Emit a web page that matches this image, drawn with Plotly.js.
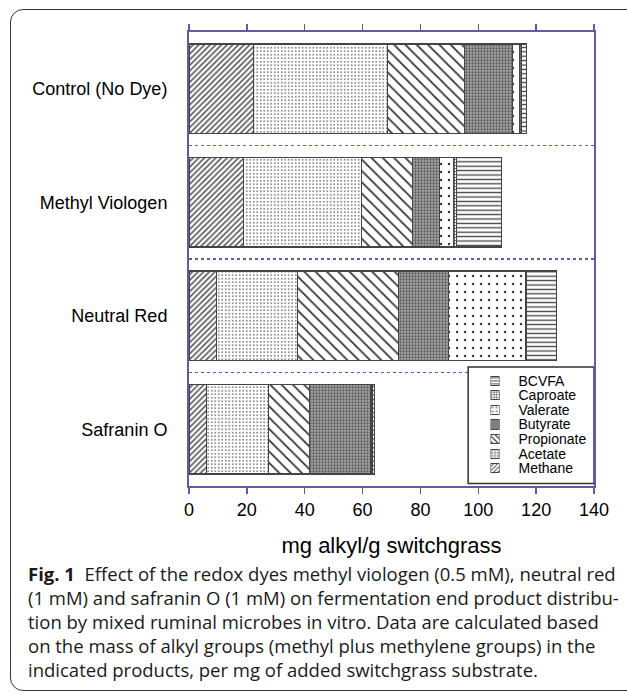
<!DOCTYPE html>
<html><head><meta charset="utf-8">
<script src="https://cdn.plot.ly/plotly-3.0.1.min.js"></script>
<style>
html,body{margin:0;padding:0;background:#fff;}
#wrap{position:relative;width:627px;height:696px;overflow:hidden;}
#chart{position:absolute;left:0;top:0;width:627px;height:696px;}
#frame{position:absolute;left:10px;top:9px;width:640px;height:682px;border:1.5px solid #333;border-radius:13px;pointer-events:none;box-sizing:border-box;}
</style></head><body>
<div id="wrap"><div id="chart"></div><div id="frame"></div></div>
<script>
// ---- data ----
const categories = ['Control (No Dye)', 'Methyl Viologen', 'Neutral Red', 'Safranin O'];
const products = ['Methane', 'Acetate', 'Propionate', 'Butyrate', 'Valerate', 'Caproate', 'BCVFA'];
const methane    = [22.2, 18.7,  9.4,  6.1];
const acetate    = [46.3, 40.9, 28.0, 21.3];
const propionate = [26.7, 17.6, 35.1, 14.2];
const butyrate   = [16.7,  9.5, 17.2, 21.1];
const valerate   = [ 2.4,  4.6, 26.5,  0.3];
const caproate   = [ 0.6,  1.2,  0.6,  0.4];
const bcvfa      = [ 1.7, 15.6, 10.3,  0.6];
const xTickVals = [0, 20, 40, 60, 80, 100, 120, 140];
const xTitle = 'mg alkyl/g switchgrass';
const captionLines = [
  '<b>Fig. 1</b>  Effect of the redox dyes methyl viologen (0.5 mM), neutral red',
  '(1 mM) and safranin O (1 mM) on fermentation end product distribu-',
  'tion by mixed ruminal microbes in vitro. Data are calculated based',
  'on the mass of alkyl groups (methyl plus methylene groups) in the',
  'indicated products, per mg of added switchgrass substrate.'
];
const seriesValues = [methane, acetate, propionate, butyrate, valerate, caproate, bcvfa];

// ---- styles ----
const patterns = [
  {shape: '/',  size: 4,   solidity: 0.38, fgcolor: '#555', bgcolor: '#fff'},
  {shape: '.',  size: 3.5, solidity: 0.18, fgcolor: '#666', bgcolor: '#fff'},
  {shape: '\\', size: 8,   solidity: 0.22, fgcolor: '#333', bgcolor: '#fff'},
  {shape: '.',  size: 3,   solidity: 0.45, fgcolor: '#5a5a5a', bgcolor: '#a8a8a8'},
  {shape: '.',  size: 8,   solidity: 0.07, fgcolor: '#333', bgcolor: '#fff'},
  {shape: '+',  size: 3,   solidity: 0.4,  fgcolor: '#333', bgcolor: '#fff'},
  {shape: '-',  size: 4.4, solidity: 0.3,  fgcolor: '#444', bgcolor: '#fff'}
];
const legendPatterns = [
  {shape: '/',  size: 3,   solidity: 0.35, fgcolor: '#555', bgcolor: '#fff'},
  {shape: '.',  size: 3,   solidity: 0.3,  fgcolor: '#555', bgcolor: '#fff'},
  {shape: '\\', size: 4,   solidity: 0.3,  fgcolor: '#333', bgcolor: '#fff'},
  {shape: '.',  size: 2,   solidity: 0.5,  fgcolor: '#555', bgcolor: '#a0a0a0'},
  {shape: '.',  size: 4,   solidity: 0.15, fgcolor: '#333', bgcolor: '#fff'},
  {shape: '+',  size: 2.5, solidity: 0.4,  fgcolor: '#555', bgcolor: '#fff'},
  {shape: '-',  size: 3,   solidity: 0.3,  fgcolor: '#444', bgcolor: '#fff'}
];
const BLUE = '#5b5ea6';
const FONT = 'Arial, Liberation Sans, sans-serif';

const W = 627, H = 696, M = {l: 189, r: 33, t: 32, b: 210};
const PW = W - M.l - M.r, PH = H - M.t - M.b;
const pxX = x => (x - M.l) / PW;
const pxY = y => (H - M.b - y) / PH;

const traces = [];
products.forEach((p, i) => {
  traces.push({
    type: 'bar', orientation: 'h', name: p,
    y: categories, x: seriesValues[i],
    xaxis: 'x', yaxis: 'y',
    marker: {color: patterns[i].bgcolor, pattern: patterns[i], line: {color: '#444', width: 1.2}},
    showlegend: false,
    hovertemplate: '%{y}<br>' + p + ': %{x}<extra></extra>'
  });
});
// legend swatches
products.forEach((p, i) => {
  traces.push({
    type: 'bar', orientation: 'h', name: p,
    y: [p], x: [1], width: 0.62,
    xaxis: 'x2', yaxis: 'y2',
    marker: {color: legendPatterns[i].bgcolor, pattern: legendPatterns[i], line: {color: '#444', width: 1}},
    showlegend: false, hoverinfo: 'skip'
  });
});

const annotations = [{
  xref: 'paper', yref: 'paper', x: pxX(26), y: pxY(559),
  xanchor: 'left', yanchor: 'top', showarrow: false, align: 'left',
  text: captionLines.join('<br>'),
  font: {family: 'Open Sans, sans-serif', size: 18.5, color: '#1a1a1a'}
}];

const layout = {
  width: W, height: H, margin: M,
  paper_bgcolor: 'rgba(0,0,0,0)', plot_bgcolor: '#fff',
  barmode: 'stack', bargap: 0.21, showlegend: false,
  font: {family: FONT, color: '#000'},
  xaxis: {
    range: [0, 140], tickvals: xTickVals, ticktext: xTickVals.map(String),
    ticks: 'outside', ticklen: 6, tickwidth: 1.5, tickcolor: BLUE,
    showline: true, linecolor: BLUE, linewidth: 2, mirror: 'ticks',
    showgrid: false, zeroline: false, fixedrange: true,
    tickfont: {family: FONT, size: 18, color: '#000'},
    title: {text: xTitle, font: {family: FONT, size: 22, color: '#000'}, standoff: 19}
  },
  yaxis: {
    type: 'category', categoryorder: 'array', categoryarray: categories,
    autorange: 'reversed', tickson: 'boundaries',
    showgrid: true, gridcolor: BLUE, griddash: 'dot', gridwidth: 1.5,
    showline: true, linecolor: BLUE, linewidth: 2, mirror: true,
    ticks: '', ticklabelstandoff: 16, fixedrange: true,
    tickfont: {family: FONT, size: 18, color: '#000'}
  },
  xaxis2: {domain: [pxX(490.5), pxX(499.5)], range: [0, 1], visible: false, anchor: 'y2', fixedrange: true},
  yaxis2: {
    domain: [pxY(475.6), pxY(373.4)], anchor: 'x2', side: 'right',
    type: 'category', categoryorder: 'array', categoryarray: products, range: [-0.5, 6.5],
    tickmode: 'array', tickvals: products, ticktext: products,
    showgrid: false, showline: false, zeroline: false, ticks: '', ticklabelstandoff: 18,
    fixedrange: true, tickfont: {family: FONT, size: 14, color: '#000'}
  },
  shapes: [{
    type: 'rect', xref: 'x', yref: 'y', layer: 'between',
    x0: 96.5, x1: 140, y0: 2.451, y1: 3.479,
    line: {color: '#333', width: 1.5}, fillcolor: '#fff'
  }],
  annotations: annotations
};

Plotly.newPlot('chart', traces, layout, {displayModeBar: false, staticPlot: true});
</script>
</body></html>
